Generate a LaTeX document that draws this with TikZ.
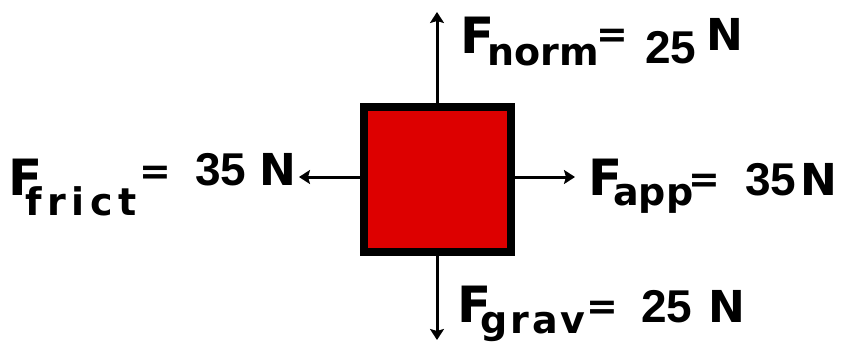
\documentclass[tikz,border=0pt]{standalone}
\usepackage{fontspec}
\setmainfont{DejaVu Sans}
\newfontfamily\numfont{Liberation Sans}
\usetikzlibrary{arrows.meta}
\definecolor{boxred}{RGB}{221,0,0}
\newcommand{\subsz}{\fontsize{38}{38}\selectfont}
\newcommand{\numsz}{\numfont\fontsize{46}{46}\selectfont}
\newcommand{\Nsz}{\fontsize{44}{44}\selectfont}

\begin{document}
\begin{tikzpicture}[x=1pt,y=-1pt,
  force/.style={line width=3pt,-{Stealth[length=11pt,width=14pt,inset=2pt]}},
  lbl/.style={inner sep=0pt,anchor=base west,font=\bfseries\fontsize{50}{50}\selectfont}]
\useasboundingbox (0,0) rectangle (845,343);
\node[draw,fill=boxred,line width=8pt,minimum width=147pt,minimum height=145pt,inner sep=0pt] (box) at (437,179.5) {};
\coordinate (up) at (437,12);
\coordinate (down) at (437,340);
\coordinate (left) at (299,177);
\coordinate (right) at (575,177);
\draw[force] (box.north) -- (up);
\draw[force] (box.south) -- (down);
\draw[force] (box.west |- left) -- (left);
\draw[force] (box.east |- right) -- (right);
\node[lbl] (frict) at (8,195) {\makebox[17pt][l]{F}\makebox[114pt][l]{\raisebox{-20pt}{\subsz\addfontfeature{LetterSpace=15}frict}}\makebox[56pt][l]{\raisebox{11pt}{\subsz =}}\makebox[64pt][l]{\raisebox{10pt}{\numsz 35}}\raisebox{10pt}{\Nsz N}};
\node[lbl] (norm) at (460,53) {\makebox[27pt][l]{F}\makebox[109pt][l]{\raisebox{-12pt}{\subsz norm}}\makebox[49pt][l]{\raisebox{6pt}{\subsz =}}\makebox[61pt][l]{\raisebox{-10pt}{\numsz 25}}\raisebox{3pt}{\Nsz N}};
\node[lbl] (grav) at (457,322) {\makebox[23pt][l]{F}\makebox[106pt][l]{\raisebox{-11pt}{\subsz\addfontfeature{LetterSpace=8}grav}}\makebox[55pt][l]{\raisebox{3pt}{\subsz =}}\makebox[67pt][l]{\numsz 25}{\Nsz N}};
\node[lbl] (app) at (588,195) {\makebox[25pt][l]{F}\makebox[75pt][l]{\raisebox{-10pt}{\subsz app}}\makebox[57pt][l]{\raisebox{3pt}{\subsz =}}\makebox[55pt][l]{\numsz 35}{\Nsz N}};
\end{tikzpicture}
\end{document}
